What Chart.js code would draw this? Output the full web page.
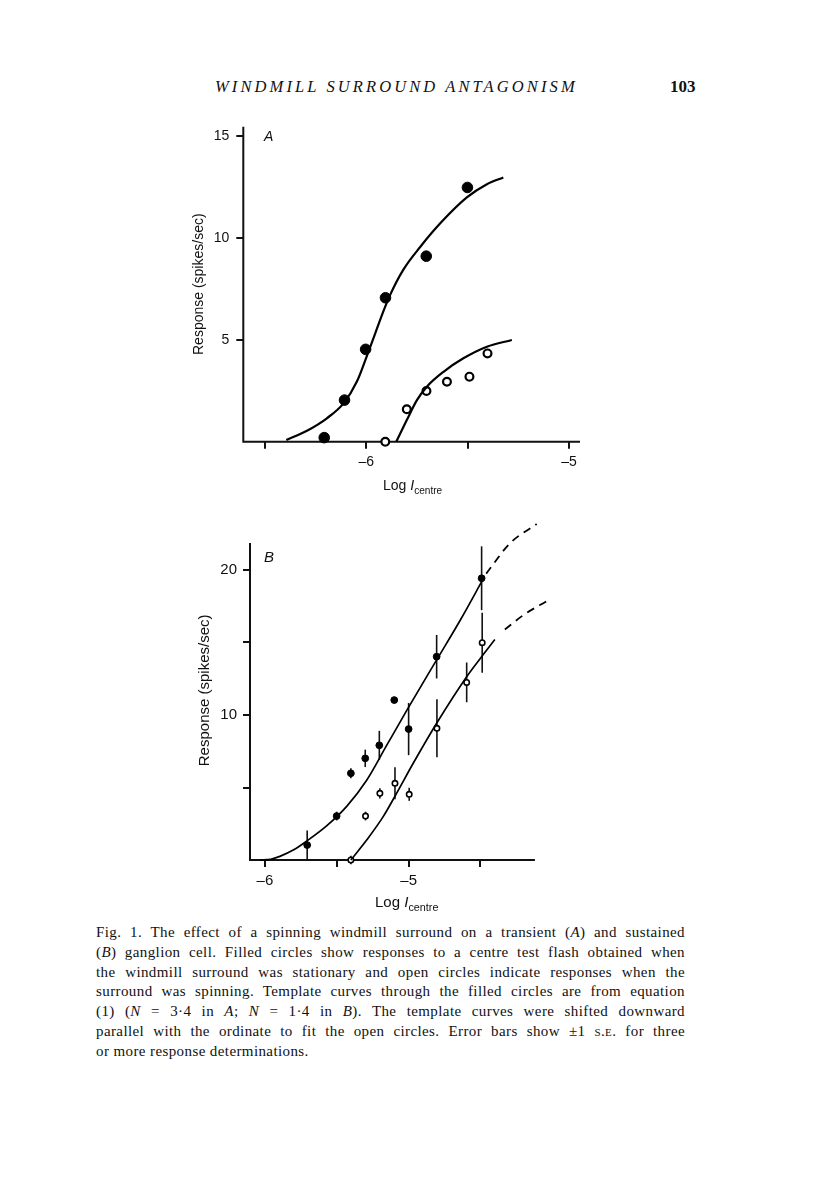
<!DOCTYPE html>
<html>
<head>
<meta charset="utf-8">
<script src="https://cdn.jsdelivr.net/npm/chart.js@4.4.0/dist/chart.umd.min.js"></script>
<style>
  html, body { margin: 0; padding: 0; background: #fff; }
  body { width: 816px; height: 1183px; position: relative; overflow: hidden; color: #111;
         font-family: "Liberation Sans", Arial, sans-serif; }
  .abs { position: absolute; }
  #header { left: 215px; top: 77px; font-family: "Liberation Serif", serif; font-style: italic;
            font-size: 16.5px; letter-spacing: 3.1px; white-space: nowrap; }
  #pageno { left: 670px; top: 77px; font-family: "Liberation Serif", serif; font-size: 17px; font-weight: bold; }
  #wrapA { left: 150px; top: 100px; width: 450px; height: 410px; }
  #wrapB { left: 150px; top: 500px; width: 410px; height: 420px; }
  .xtitle { white-space: nowrap; }
  .xtitle sub { font-size: 0.72em; vertical-align: -0.35em; }
  .panel { font-style: italic; }
  #caption { left: 96px; top: 923px; width: 589px; font-family: "Liberation Serif", serif;
             font-size: 15px; line-height: 19.8px; letter-spacing: 0.4px; }
  #caption div { text-align: justify; text-align-last: justify; white-space: nowrap; }
  #caption div.last { text-align-last: left; }
  .sc { font-variant: small-caps; }
</style>
</head>
<body>

<div id="header" class="abs">WINDMILL SURROUND ANTAGONISM</div>
<div id="pageno" class="abs">103</div>

<div id="wrapA" class="abs"><canvas id="chartA"></canvas></div>
<div class="abs panel" style="left:264px; top:128px; font-size:14px;">A</div>
<div class="abs xtitle" style="left:383px; top:477px; font-size:14px;">Log <i>I</i><sub>centre</sub></div>

<div id="wrapB" class="abs"><canvas id="chartB"></canvas></div>
<div class="abs panel" style="left:264px; top:548px; font-size:15px;">B</div>
<div class="abs xtitle" style="left:375px; top:893px; font-size:15px;">Log <i>I</i><sub>centre</sub></div>

<div id="caption" class="abs">
  <div>Fig. 1. The effect of a spinning windmill surround on a transient (<i>A</i>) and sustained</div>
  <div>(<i>B</i>) ganglion cell. Filled circles show responses to a centre test flash obtained when</div>
  <div>the windmill surround was stationary and open circles indicate responses when the</div>
  <div>surround was spinning. Template curves through the filled circles are from equation</div>
  <div>(1) (<i>N</i> = 3·4 in <i>A</i>; <i>N</i> = 1·4 in <i>B</i>). The template curves were shifted downward</div>
  <div>parallel with the ordinate to fit the open circles. Error bars show ±1 <span class="sc">s.e.</span> for three</div>
  <div class="last">or more response determinations.</div>
</div>

<script>
// ---- panel A (transient cell) ----
const logA_filled = [-6.207, -6.107, -6.003, -5.905, -5.704, -5.501];
const respA_filled = [0.2, 2.04, 4.53, 7.06, 9.1, 12.47];
const logA_open = [-5.906, -5.80, -5.703, -5.602, -5.491, -5.402];
const respA_open = [0, 1.59, 2.49, 2.94, 3.19, 4.33];

// template curves
const curveA_filled_x = [-6.394, -6.292, -6.194, -6.112, -6.046, -5.997, -5.956, -5.923, -5.882, -5.816, -5.734, -5.635, -5.504, -5.405, -5.324];
const curveA_filled_y = [0.08, 0.54, 1.15, 1.88, 2.95, 4.2, 5.3, 6.2, 7.2, 8.45, 9.55, 10.71, 11.98, 12.63, 12.96];
const curveA_open_x = [-5.852, -5.80, -5.75, -5.701, -5.619, -5.521, -5.405, -5.282];
const curveA_open_y = [0, 1.06, 2.04, 2.7, 3.43, 4.09, 4.66, 4.99];

const ticksA_x = [-6.5, -6, -5.5, -5];
const ticksA_y = [5, 10, 15];

// ---- panel B (sustained cell) ----
const logB_filled = [-5.706, -5.501, -5.402, -5.302, -5.204, -5.10, -5.0, -4.805, -4.492];
const respB_filled = [1.03, 3.03, 5.98, 7.01, 7.91, 11.03, 9.03, 14.02, 19.43];
const errB_filled = [1.0, 0.3, 0.35, 0.6, 1.0, 0, 1.8, 1.5, 2.2];
const logB_open = [-5.402, -5.30, -5.20, -5.095, -4.996, -4.803, -4.596, -4.488];
const respB_open = [0, 3.03, 4.6, 5.29, 4.53, 9.08, 12.25, 14.99];
const errB_open = [0.3, 0.3, 0.35, 1.1, 0.45, 2.0, 1.37, 2.07];

const curveB_filled_x = [-6.035, -5.96, -5.896, -5.80, -5.71, -5.571, -5.431, -5.292, -5.153, -5.014, -4.805, -4.643, -4.48];
const curveB_filled_y = [0, 0.05, 0.25, 0.7, 1.3, 2.35, 3.7, 5.5, 7.9, 10.3, 13.8, 16.5, 19.4];
const dashB_filled_x = [-4.46, -4.295, -4.109];
const dashB_filled_y = [19.75, 21.84, 23.17];
const curveB_open_x = [-5.402, -5.292, -5.177, -5.084, -4.968, -4.805, -4.596, -4.492, -4.40];
const curveB_open_y = [0, 1.38, 2.99, 4.6, 6.67, 9.43, 12.64, 14.02, 15.2];
const dashB_open_x = [-4.33, -4.2, -4.035];
const dashB_open_y = [15.9, 16.9, 17.88];

const ticksB_x = [-6, -5.5, -5, -4.5];
const ticksB_y = [5, 10, 15, 20];
const labelsB_y = [10, 20];
const labelsX = [-6, -5];

const ink = '#111';
Chart.defaults.font.family = "'Liberation Sans', Arial, sans-serif";
Chart.defaults.color = ink;

function pts(xs, ys) {
  return xs.map((x, i) => ({ x: x, y: ys[i] }));
}

// axis lines and error bars, placed through the chart scales
const axesPlugin = {
  id: 'axes',
  beforeDatasetsDraw(chart, args, opts) {
    const { ctx, scales } = chart;
    const x = scales.x, y = scales.y;
    ctx.save();
    ctx.strokeStyle = ink;
    ctx.lineWidth = 2;
    const x0 = x.getPixelForValue(x.min);
    const y0 = y.getPixelForValue(0);
    ctx.beginPath();
    ctx.moveTo(x0, y.getPixelForValue(opts.yTop));
    ctx.lineTo(x0, y0);
    ctx.lineTo(x.getPixelForValue(opts.xEnd), y0);
    ctx.stroke();
    ctx.lineWidth = 1.6;
    (opts.bars || []).forEach(b => {
      b.xs.forEach((xv, i) => {
        const e = b.err[i];
        if (!e) return;
        const px = x.getPixelForValue(xv);
        ctx.beginPath();
        ctx.moveTo(px, y.getPixelForValue(b.ys[i] - e));
        ctx.lineTo(px, y.getPixelForValue(b.ys[i] + e));
        ctx.stroke();
      });
    });
    ctx.restore();
  }
};

function curve(data, width, dash) {
  return {
    type: 'line', data: data, showLine: true, pointRadius: 0, borderColor: '#000',
    borderWidth: width, borderDash: dash || [], cubicInterpolationMode: 'monotone',
    fill: false, clip: false
  };
}

function tickGrid() {
  return { display: true, drawOnChartArea: false, drawTicks: true, tickLength: 7, color: ink, lineWidth: 2 };
}

// ---------- chart A ----------
new Chart(document.getElementById('chartA'), {
  type: 'scatter',
  data: {
    datasets: [
      curve(pts(curveA_filled_x, curveA_filled_y), 2.2),
      curve(pts(curveA_open_x, curveA_open_y), 2.2),
      { data: pts(logA_filled, respA_filled), pointRadius: 5.3, pointBorderWidth: 1,
        pointBackgroundColor: '#000', pointBorderColor: '#000', clip: false },
      { data: pts(logA_open, respA_open), pointRadius: 3.9, pointBorderWidth: 2.2,
        pointBackgroundColor: '#fff', pointBorderColor: '#000', clip: false }
    ]
  },
  options: {
    responsive: true, maintainAspectRatio: false, animation: false,
    layout: { padding: { top: 26.7, right: 20, bottom: 0, left: 0 } },
    plugins: { legend: { display: false }, tooltip: { enabled: false },
               axes: { yTop: 15.45, xEnd: -4.946 } },
    scales: {
      x: {
        type: 'linear', min: -6.606, max: -4.946,
        afterBuildTicks: s => { s.ticks = ticksA_x.map(v => ({ value: v })); },
        afterFit: s => { s.height = 68.3; },
        ticks: { font: { size: 14 }, padding: 5, maxRotation: 0,
                 callback: v => labelsX.includes(v) ? '\u2013' + Math.abs(v) : '' },
        grid: tickGrid(), border: { display: false }
      },
      y: {
        type: 'linear', min: 0, max: 15.45,
        afterBuildTicks: s => { s.ticks = ticksA_y.map(v => ({ value: v })); },
        afterFit: s => { s.width = 93.3; },
        ticks: { font: { size: 14 }, padding: 7, callback: v => String(v) },
        grid: tickGrid(), border: { display: false },
        title: { display: true, text: 'Response (spikes/sec)', font: { size: 14, lineHeight: 1.2 },
                 padding: { top: 40.6, bottom: 0 } }
      }
    }
  },
  plugins: [axesPlugin]
});

// ---------- chart B ----------
new Chart(document.getElementById('chartB'), {
  type: 'scatter',
  data: {
    datasets: [
      curve(pts(curveB_filled_x, curveB_filled_y), 1.7),
      curve(pts(dashB_filled_x, dashB_filled_y), 1.8, [8, 6]),
      curve(pts(curveB_open_x, curveB_open_y), 1.7),
      curve(pts(dashB_open_x, dashB_open_y), 1.8, [8, 6]),
      { data: pts(logB_filled, respB_filled), pointRadius: 3.4, pointBorderWidth: 1,
        pointBackgroundColor: '#000', pointBorderColor: '#000', clip: false },
      { data: pts(logB_open, respB_open), pointRadius: 2.7, pointBorderWidth: 1.6,
        pointBackgroundColor: '#fff', pointBorderColor: '#000', clip: false }
    ]
  },
  options: {
    responsive: true, maintainAspectRatio: false, animation: false,
    layout: { padding: { top: 20.7, right: 12, bottom: 0, left: 0 } },
    plugins: { legend: { display: false }, tooltip: { enabled: false },
               axes: { yTop: 21.86, xEnd: -4.121,
                       bars: [ { xs: logB_filled, ys: respB_filled, err: errB_filled },
                               { xs: logB_open, ys: respB_open, err: errB_open } ] } },
    scales: {
      x: {
        type: 'linear', min: -6.104, max: -4.03,
        afterBuildTicks: s => { s.ticks = ticksB_x.map(v => ({ value: v })); },
        afterFit: s => { s.height = 60; },
        ticks: { font: { size: 15 }, padding: 5, maxRotation: 0,
                 callback: v => labelsX.includes(v) ? '\u2013' + Math.abs(v) : '' },
        grid: tickGrid(), border: { display: false }
      },
      y: {
        type: 'linear', min: 0, max: 23.4,
        afterBuildTicks: s => { s.ticks = ticksB_y.map(v => ({ value: v })); },
        afterFit: s => { s.width = 100; },
        ticks: { font: { size: 15 }, padding: 6, callback: v => labelsB_y.includes(v) ? String(v) : '' },
        grid: tickGrid(), border: { display: false },
        title: { display: true, text: 'Response (spikes/sec)', font: { size: 15, lineHeight: 1.2 },
                 padding: { top: 46, bottom: 0 } }
      }
    }
  },
  plugins: [axesPlugin]
});
</script>
</body>
</html>
